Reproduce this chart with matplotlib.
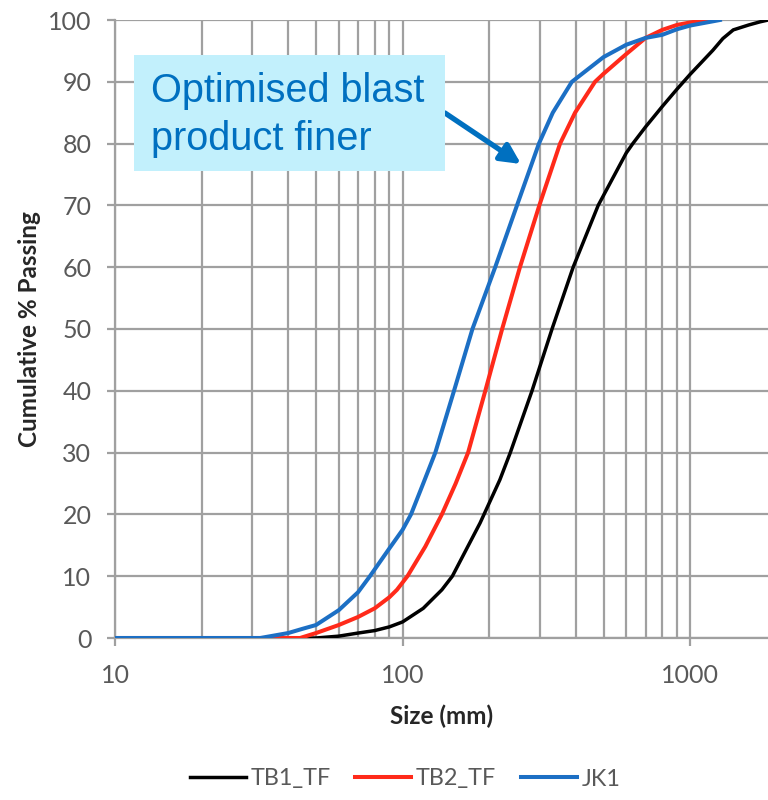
import numpy as np
import matplotlib
matplotlib.use('Agg')
import matplotlib.pyplot as plt
from matplotlib.patches import Rectangle
from matplotlib.ticker import FixedLocator, NullFormatter

# Curve readings (size in mm, cumulative % passing)
tb1_size = [10, 50, 60, 70, 80, 90, 100, 118, 137, 149, 186, 218, 237, 282, 331,
            392, 479, 600, 632, 700, 800, 900, 1000, 1200, 1300, 1413, 1600, 1750, 1870]
tb1_pass = [0, 0, 0.3, 0.8, 1.2, 1.8, 2.6, 4.8, 7.8, 10, 18.6, 25.6, 30, 40, 50,
            60, 70, 78.5, 80, 82.7, 86, 88.8, 91.2, 95.1, 97.0, 98.4, 99.2, 99.7, 100]

tb2_size = [10, 44, 50, 60, 70, 80, 90, 95.6, 104, 120, 137, 153, 169, 194, 222,
            256, 299, 353, 398, 467, 500, 600, 700, 800, 900, 1000, 1140]
tb2_pass = [0, 0, 0.8, 2.1, 3.4, 4.8, 6.6, 7.8, 10, 14.8, 20, 25, 30, 40, 50,
            60, 70, 80, 85, 90, 91.3, 94.5, 97.1, 98.4, 99.2, 99.6, 100]

jk1_size = [10, 32, 40, 45, 50, 60, 70, 77, 90, 100, 107, 118, 130, 151, 175, 210,
            250, 298, 333, 388, 500, 600, 700, 800, 900, 1000, 1270]
jk1_pass = [0, 0, 0.8, 1.5, 2.1, 4.5, 7.4, 10, 14.5, 17.5, 20, 25, 30, 40, 50, 60,
            70, 80, 85, 90, 94, 96, 97.1, 97.6, 98.5, 99.1, 100]

series_names = ['TB1_TF', 'TB2_TF', 'JK1']
series_colors = ['#000000', '#FF2A1A', '#1C6FC4']

yticks = list(range(0, 101, 10))
xmajor = [10, 100, 1000]
xminor = [20, 30, 40, 50, 60, 70, 80, 90, 200, 300, 400, 500, 600, 700, 800, 900]

plt.rcParams['font.family'] = ['Lato', 'DejaVu Sans']

W, H = 768, 800
fig = plt.figure(figsize=(W / 100, H / 100), dpi=100)
ax = fig.add_axes([115 / W, 1 - 638 / H, 1 - 115 / W, (638 - 20) / H])

grid_c = '#A0A0A0'
ax.plot(tb1_size, tb1_pass, color=series_colors[0], lw=2.5, label=series_names[0], zorder=3)
ax.plot(tb2_size, tb2_pass, color=series_colors[1], lw=2.9, label=series_names[1], zorder=3)
ax.plot(jk1_size, jk1_pass, color=series_colors[2], lw=2.9, label=series_names[2], zorder=4)

ax.set_xscale('log')
ax.set_xlim(10, 1866)
ax.set_ylim(0, 100)
ax.xaxis.set_major_locator(FixedLocator(xmajor))
ax.xaxis.set_minor_locator(FixedLocator(xminor))
ax.xaxis.set_minor_formatter(NullFormatter())
ax.set_xticklabels([str(v) for v in xmajor])
ax.set_yticks(yticks)

ax.grid(True, which='both', color=grid_c, lw=1.6)
ax.set_axisbelow(True)
for s in ['top', 'right']:
    ax.spines[s].set_visible(False)
for s in ['left', 'bottom']:
    ax.spines[s].set_color(grid_c)
    ax.spines[s].set_linewidth(1.6)

ax.tick_params(axis='both', which='major', length=6, width=1.6, color=grid_c,
               labelcolor='#595959', labelsize=18)
ax.tick_params(axis='y', pad=11)
ax.tick_params(axis='x', pad=13)
ax.tick_params(axis='x', which='minor', length=0)

ax.set_xlabel('Size (mm)', fontsize=17.5, fontweight='bold', color='#262626', labelpad=12)
ax.set_ylabel('Cumulative % Passing', fontsize=17.5, fontweight='bold', color='#262626', labelpad=5)

# Callout box and arrow
fig.patches.append(Rectangle((134 / W, 1 - 171 / H), (445 - 134) / W, (171 - 55) / H,
                             transform=fig.transFigure, facecolor='#C2F0FC',
                             edgecolor='none', zorder=5))
fig.text(151 / W, 1 - 150 / H, 'Optimised blast\nproduct finer', fontsize=28.6,
         family=['Liberation Sans', 'DejaVu Sans'], color='#0070C0',
         va='baseline', ha='left', linespacing=1.33, zorder=6)
ax.annotate('', xy=(521 / W, 1 - 164 / H), xytext=(445 / W, 1 - 113 / H),
            xycoords='figure fraction', textcoords='figure fraction',
            arrowprops=dict(arrowstyle='-|>', color='#0070C0', lw=3.8,
                            mutation_scale=30, shrinkA=0, shrinkB=0),
            zorder=7)

leg = fig.legend(loc='center', bbox_to_anchor=(405 / W, 1 - 779 / H), ncol=3,
                 frameon=False, fontsize=16.8, handlelength=2.4, handletextpad=0.2,
                 columnspacing=1.05)
for t in leg.get_texts():
    t.set_color('#595959')

fig.savefig('out.png', dpi=100)
